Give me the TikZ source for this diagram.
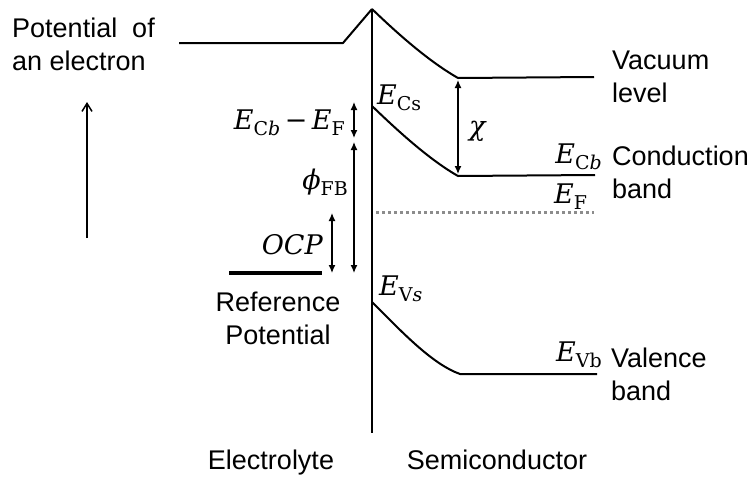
\documentclass[tikz,border=0pt]{standalone}
\usepackage[no-math]{fontspec}
\setmainfont{Liberation Sans}
\newfontfamily\mser{DejaVu Serif}
\usetikzlibrary{arrows.meta}
\definecolor{fermigray}{RGB}{140,140,140}
\newcommand{\subtxt}[1]{\raisebox{-6pt}{\fontsize{19}{19}\selectfont #1}}
\newcommand{\Ev}[1]{{\mser\itshape E\subtxt{#1}}}
\begin{document}
\begin{tikzpicture}[x=1pt,y=-1pt,
  band/.style={line width=2pt, line join=round},
  dimarrow/.style={line width=1.2pt, {Latex[length=8pt,width=7pt]}-{Latex[length=8pt,width=7pt]}},
  lab/.style={font=\fontsize{27}{33}\selectfont, inner sep=0pt, align=left},
  mlab/.style={font=\fontsize{27}{32}\selectfont\mser, inner sep=0pt}]
\useasboundingbox (0,0) rectangle (753,477);

% key points
\coordinate (elL) at (179,43);
\coordinate (elR) at (343,43);
\coordinate (peak) at (372,9);
\coordinate (ifB) at (372,433);
\coordinate (vacB) at (458,78);
\coordinate (vacE) at (594,77);
\coordinate (cs) at (372,106);
\coordinate (cb) at (458,176);
\coordinate (cbE) at (595,175);
\coordinate (vs) at (372,302);
\coordinate (vb) at (460,374);
\coordinate (vbE) at (597,374);
\coordinate (fL) at (376,212);
\coordinate (fR) at (594,212);
\coordinate (refL) at (229,273);
\coordinate (refR) at (322,273);

% interface and electrolyte level
\draw[line width=2.4pt] (peak) -- (ifB);
\draw[band] (elL) -- (elR) -- (peak);

% bands
\draw[band] (peak) .. controls (400,36) and (430,62) .. (vacB) -- (vacE);
\draw[band] (cs) .. controls (400,133) and (430,160) .. (cb) -- (cbE);
\draw[band] (vs) .. controls (402,332) and (432,364) .. (vb) -- (vbE);
\draw[line width=3pt, fermigray, dash pattern=on 3pt off 3pt] (fL) -- (fR);

% reference potential
\draw[line width=4pt] (refL) -- (refR);

% dimension arrows
\coordinate (chiT) at (458,80);
\coordinate (chiB) at (458,174);
\draw[dimarrow] (chiT) -- (chiB);
\coordinate (dA) at (354,102);
\coordinate (dB) at (354,138);
\draw[dimarrow] (dA) -- (dB);
\coordinate (phiT) at (354,142);
\coordinate (phiB) at (354,273);
\draw[dimarrow] (phiT) -- (phiB);
\coordinate (ocpT) at (332,213);
\coordinate (ocpB) at (332,273);
\draw[dimarrow] (ocpT) -- (ocpB);

% potential axis arrow
\coordinate (axB) at (87,238);
\coordinate (axT) at (87,102);
\draw[line width=1.5pt, -{Straight Barb[length=8pt,width=10pt]}] (axB) -- (axT);

% labels
\node[lab, anchor=north west] (pot) at (12,18) {Potential~ of\\an electron};
\node[lab, anchor=north west] (vac) at (612,51) {Vacuum\\level};
\node[lab, anchor=north west] (cond) at (612,146) {Conduction\\band};
\node[lab, anchor=north west] (val) at (611,348) {Valence\\band};
\node[lab, anchor=north, align=center] (ref) at (278,292) {Reference\\Potential};
\node[lab, anchor=base] (ely) at (271,469) {Electrolyte};
\node[lab, anchor=base] (semi) at (497,469) {Semiconductor};

\node[mlab, anchor=base west] (ecs) at (377,104) {\Ev{\upshape Cs}};
\node[mlab, anchor=base east] (ecb) at (602,163) {\Ev{\upshape C\itshape b}};
\node[mlab, anchor=base west] (ef) at (554,203) {\Ev{\upshape F}};
\node[mlab, anchor=base west] (evs) at (379,295) {\Ev{\upshape V\itshape s}};
\node[mlab, anchor=base east] (evb) at (602,361) {\Ev{\upshape Vb}};
\node[mlab, anchor=base east] (diff) at (345,129) {\Ev{\upshape C\itshape b}\,{\upshape −}\,\Ev{\upshape F}};
\node[mlab, anchor=base east] (phi) at (348,189) {{\itshape ϕ}\subtxt{\upshape FB}};
\node[mlab, anchor=base east] (ocp) at (323,254) {\itshape OCP};
\node[mlab, anchor=base west] (chi) at (469,135) {\itshape χ};
\end{tikzpicture}
\end{document}
